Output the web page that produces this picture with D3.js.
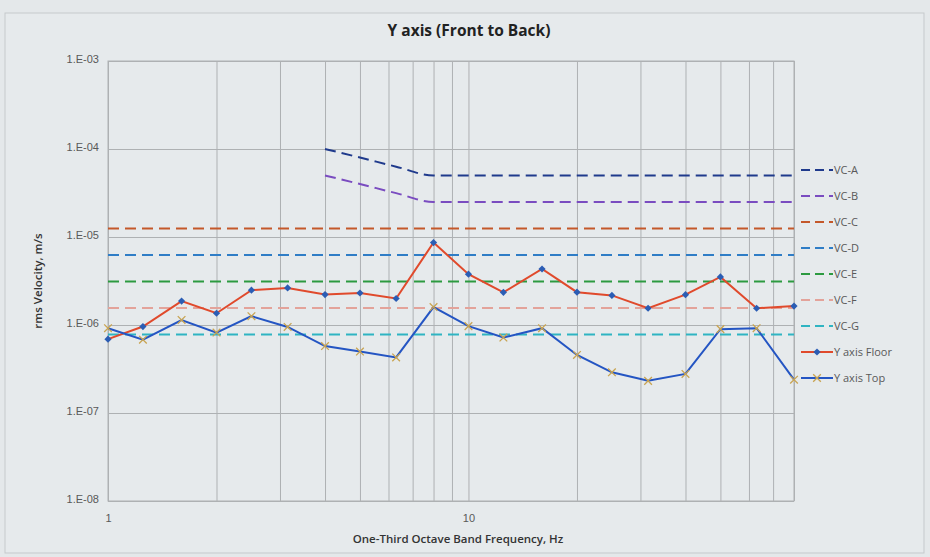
<!DOCTYPE html>
<html>
  <head>
    <meta charset="utf-8">
    <title>Y axis (Front to Back)</title>
  </head>
  <style>
  body{
      margin: 0;
      background: #e4e8ea;
      font-family: "Open Sans", "Noto Sans", sans-serif;
    }
  .grid .domain { display: none }
  .grid .tick line { stroke: #aeb1b3; stroke-width: 1 }
  .axis .domain { display: none }
  .axis .tick line { display: none }
  .axis .tick text { fill: #595959; font-size: 11px }
  </style>
  <script src="https://d3js.org/d3.v7.min.js"></script>
  <body>
    <script>
    // one-third octave band centre frequencies, Hz
    const freqs = [1, 1.25, 1.6, 2, 2.5, 3.15, 4, 5, 6.3, 8, 10, 12.5, 16, 20, 25, 31.5, 40, 50, 63, 80]

    // measured rms velocity, m/s
    const floorVals = [6.9e-7, 9.6e-7, 1.87e-6, 1.36e-6, 2.49e-6, 2.64e-6, 2.22e-6, 2.31e-6, 2.0e-6, 8.65e-6,
                       3.78e-6, 2.35e-6, 4.33e-6, 2.36e-6, 2.17e-6, 1.55e-6, 2.21e-6, 3.52e-6, 1.55e-6, 1.64e-6]
    const topVals   = [9.2e-7, 6.8e-7, 1.14e-6, 8.2e-7, 1.26e-6, 9.5e-7, 5.77e-7, 4.99e-7, 4.28e-7, 1.6e-6,
                       9.7e-7, 7.2e-7, 9.2e-7, 4.57e-7, 2.9e-7, 2.32e-7, 2.78e-7, 8.97e-7, 9.2e-7, 2.39e-7]

    // vibration criteria curves
    const vcNames  = ["VC-A", "VC-B", "VC-C", "VC-D", "VC-E", "VC-F", "VC-G"]
    const vcFreqs  = [[4, 5, 6.3, 8, 80], [4, 5, 6.3, 8, 80], [1, 80], [1, 80], [1, 80], [1, 80], [1, 80]]
    const vcVals   = [[1e-4, 8e-5, 6.3e-5, 5e-5, 5e-5],
                      [5e-5, 4e-5, 3.15e-5, 2.5e-5, 2.5e-5],
                      [1.25e-5, 1.25e-5],
                      [6.25e-6, 6.25e-6],
                      [3.12e-6, 3.12e-6],
                      [1.56e-6, 1.56e-6],
                      [7.8e-7, 7.8e-7]]
    const vcColors = ["#1f3a8c", "#7a4cc0", "#c4582a", "#2f7dc6", "#2c9a40", "#e3a39a", "#2fb4c2"]

    const yTicks = [1e-3, 1e-4, 1e-5, 1e-6, 1e-7, 1e-8]
    const yTickLabels = ["1.E-03", "1.E-04", "1.E-05", "1.E-06", "1.E-07", "1.E-08"]
    const xTicks = [1, 10]
    const xGrid = [1, 2, 3, 4, 5, 6, 7, 8, 9, 10, 20, 30, 40, 50, 60, 70, 80]

    var W = 930, H = 557
    var plot = { left: 108, top: 61, right: 794, bottom: 501 }

    var svg = d3.select("body").append("svg")
                .attr("width", W)
                .attr("height", H)

    // chart area border
    svg.append("rect")
       .attr("x", 5).attr("y", 13)
       .attr("width", 919).attr("height", 540)
       .attr("fill", "#e6eaec")
       .attr("stroke", "#c5c9cc")

    let xScale = d3.scaleLog().domain([1, 80]).range([plot.left, plot.right])
    let yScale = d3.scaleLog().domain([1e-8, 1e-3]).range([plot.bottom, plot.top])

    // gridlines
    svg.append("g")
       .attr("class", "grid")
       .attr("transform", "translate(0," + plot.bottom + ")")
       .call(d3.axisBottom(xScale).tickValues(xGrid).tickSize(-(plot.bottom - plot.top)).tickFormat(""))

    svg.append("g")
       .attr("class", "grid")
       .attr("transform", "translate(" + plot.left + ",0)")
       .call(d3.axisLeft(yScale).tickValues(yTicks).tickSize(-(plot.right - plot.left)).tickFormat(""))

    svg.append("rect")
       .attr("x", plot.left).attr("y", plot.top)
       .attr("width", plot.right - plot.left).attr("height", plot.bottom - plot.top)
       .attr("fill", "none")
       .attr("stroke", "#aeb1b3")

    // axes labels
    svg.append("g")
       .attr("class", "axis")
       .attr("transform", "translate(" + (plot.left - 6) + ",0)")
       .call(d3.axisLeft(yScale).tickValues(yTicks).tickSize(0)
             .tickFormat(function(d, i){ return yTickLabels[i] }))
       .selectAll("text").attr("dy", "0.1em")

    svg.append("g")
       .attr("class", "axis")
       .attr("transform", "translate(0," + (plot.bottom + 10) + ")")
       .call(d3.axisBottom(xScale).tickValues(xTicks).tickSize(0)
             .tickFormat(function(d){ return String(d) }))

    // title and axis titles
    svg.append("text")
       .attr("x", 469).attr("y", 36)
       .attr("text-anchor", "middle")
       .attr("font-size", "15.5px").attr("font-weight", "bold")
       .attr("fill", "#222")
       .text("Y axis (Front to Back)")

    svg.append("text")
       .attr("transform", "translate(42," + ((plot.top + plot.bottom) / 2) + ") rotate(-90)")
       .attr("text-anchor", "middle")
       .attr("font-size", "11.5px").attr("font-weight", "600")
       .attr("fill", "#333")
       .text("rms Velocity, m/s")

    svg.append("text")
       .attr("x", 458).attr("y", 543)
       .attr("text-anchor", "middle")
       .attr("font-size", "11.5px").attr("font-weight", "600")
       .attr("fill", "#333")
       .text("One-Third Octave Band Frequency, Hz")

    // VC curves
    var line = d3.line()
                 .x(function(d){ return xScale(d[0]) })
                 .y(function(d){ return yScale(d[1]) })
                 .curve(d3.curveMonotoneX)

    vcNames.forEach(function(name, i){
      let pts = vcFreqs[i].map(function(f, j){ return [f, vcVals[i][j]] })
      svg.append("path")
         .attr("d", line(pts))
         .attr("fill", "none")
         .attr("stroke", vcColors[i])
         .attr("stroke-width", 2)
         .attr("stroke-dasharray", "11,6")
    })

    // measured series
    var plain = d3.line()
                  .x(function(d){ return xScale(d[0]) })
                  .y(function(d){ return yScale(d[1]) })

    let floorPts = freqs.map(function(f, i){ return [f, floorVals[i]] })
    let topPts   = freqs.map(function(f, i){ return [f, topVals[i]] })

    svg.append("path").attr("d", plain(floorPts))
       .attr("fill", "none").attr("stroke", "#e04a2c").attr("stroke-width", 2)

    svg.append("path").attr("d", plain(topPts))
       .attr("fill", "none").attr("stroke", "#2455c3").attr("stroke-width", 2)

    // square diamond marker, rotated square
    var diamond = d3.symbol().type(d3.symbolSquare).size(26)
    var cross = d3.symbol().type(d3.symbolTimes).size(40)

    svg.append("g").selectAll("path")
       .data(floorPts).enter().append("path")
       .attr("d", diamond)
       .attr("transform", function(d){ return "translate(" + xScale(d[0]) + "," + yScale(d[1]) + ") rotate(45)" })
       .attr("fill", "#2b5db4")

    svg.append("g").selectAll("path")
       .data(topPts).enter().append("path")
       .attr("d", cross)
       .attr("transform", function(d){ return "translate(" + xScale(d[0]) + "," + yScale(d[1]) + ")" })
       .attr("fill", "none")
       .attr("stroke", "#c9a451")
       .attr("stroke-width", 1.3)

    // legend
    var legend = svg.append("g").attr("transform", "translate(801,170)")
    var legendNames = vcNames.concat(["Y axis Floor", "Y axis Top"])
    var legendColors = vcColors.concat(["#e04a2c", "#2455c3"])

    legendNames.forEach(function(name, i){
      let g = legend.append("g").attr("transform", "translate(0," + (i * 26) + ")")
      g.append("line")
       .attr("x1", 0).attr("x2", 32).attr("y1", 0).attr("y2", 0)
       .attr("stroke", legendColors[i])
       .attr("stroke-width", 2)
       .attr("stroke-dasharray", i < 7 ? "9,5" : null)
      if (i === 7) {
        g.append("path").attr("d", diamond).attr("transform", "translate(16,0) rotate(45)").attr("fill", "#2b5db4")
      }
      if (i === 8) {
        g.append("path").attr("d", cross).attr("transform", "translate(16,0)")
         .attr("fill", "none").attr("stroke", "#c9a451").attr("stroke-width", 1.3)
      }
      g.append("text")
       .attr("x", 33).attr("y", 0).attr("dy", "0.35em")
       .attr("font-size", "11px")
       .attr("fill", "#595959")
       .text(name)
    })
    </script>
  </body>
</html>
